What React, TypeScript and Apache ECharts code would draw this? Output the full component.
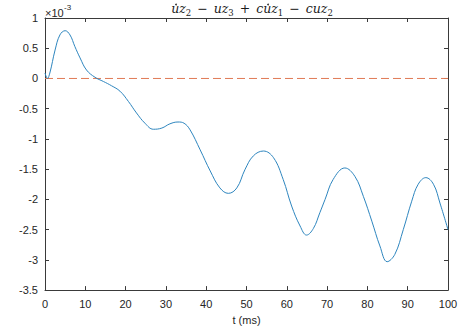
import React, { useEffect, useRef } from "react";
import * as echarts from "echarts";

// time (ms)
const tValues = [
  0, 0.6, 1.2, 2.5, 3.7, 5, 6.2, 7.4, 8.7, 10.3, 12.4, 14.5, 16.5, 18.6, 20.7, 22.7, 24.8, 26.9,
  29, 31, 33, 34.5, 36, 38.5, 41, 43.4, 45.5, 47.6, 49.6, 51.7, 54.2, 56.7, 59.1, 61.2, 63.3,
  64.9, 66.6, 68.2, 69.5, 71.5, 74.4, 76.9, 79, 81.1, 83.1, 84.9, 86.8, 88.9, 91, 92.6, 94.5,
  96.4, 98, 100,
];
// signal values in units of 1e-3
const signalE3 = [
  0.09, 0.0, 0.09, 0.47, 0.72, 0.79, 0.72, 0.53, 0.34, 0.14, 0.02, -0.05, -0.12, -0.21, -0.38,
  -0.57, -0.74, -0.84, -0.82, -0.75, -0.72, -0.74, -0.85, -1.18, -1.53, -1.81, -1.9, -1.81,
  -1.51, -1.28, -1.2, -1.31, -1.67, -2.11, -2.44, -2.59, -2.48, -2.22, -2.0, -1.67, -1.48,
  -1.62, -1.95, -2.36, -2.77, -3.03, -2.91, -2.5, -2.03, -1.75, -1.64, -1.75, -2.06, -2.5,
];
const zeroLineT = [0, 100];
const zeroLineV = [0, 0];

const xTicks = { min: 0, max: 100, interval: 10 };
const yTicks = { min: -3.5, max: 1, interval: 0.5 };
// title tokens: [text, kind, dotted]  (i = italic variable, s = subscript, o = operator)
const titleTokens: [string, string, boolean][] = [
  ["u", "i", true], ["z", "i", false], ["2", "s", false], ["−", "o", false],
  ["u", "i", false], ["z", "i", false], ["3", "s", false], ["+", "o", false],
  ["c", "i", false], ["u", "i", true], ["z", "i", false], ["1", "s", false], ["−", "o", false],
  ["c", "i", false], ["u", "i", false], ["z", "i", false], ["2", "s", false],
];
const xLabel = "t (ms)";
const exponentBase = "×10";
const exponentPower = "-3";

export default function App() {
  const ref = useRef<HTMLDivElement>(null);
  useEffect(() => {
    if (!ref.current) return;
    const chart = echarts.init(ref.current, undefined, { renderer: "svg" });
    const axisColor = "#3a3a3a";
    const font = "Liberation Sans, Arial, sans-serif";
    const serif = "'DejaVu Serif', 'Liberation Serif', serif";
    const baseAxis = {
      axisLine: { show: true, onZero: false, lineStyle: { color: axisColor, width: 1 } },
      axisTick: { show: true, inside: true, length: 4, lineStyle: { color: axisColor } },
      splitLine: { show: false },
    };

    // lay out the title tokens
    const mainSize = 12.5;
    const subSize = 8.5;
    const ctx = document.createElement("canvas").getContext("2d")!;
    const fontOf = (kind: string) =>
      kind === "i"
        ? `italic ${mainSize}px ${serif}`
        : kind === "s"
        ? `${subSize}px ${serif}`
        : `${mainSize}px ${serif}`;
    const opGap = 6;
    const widths = titleTokens.map(([t, k]) => {
      ctx.font = fontOf(k);
      return ctx.measureText(t).width + (k === "o" ? 2 * opGap : 0);
    });
    const total = widths.reduce((a, b) => a + b, 0);
    const centerX = 252;
    const baseY = 15;
    let cx = centerX - total / 2;
    const titleEls: any[] = [];
    titleTokens.forEach(([t, k, dotted], i) => {
      const x = cx + (k === "o" ? opGap : 0);
      titleEls.push({
        type: "text",
        x,
        y: k === "s" ? baseY + 2.5 : baseY,
        style: {
          text: t,
          fontSize: k === "s" ? subSize : mainSize,
          fontFamily: serif,
          fontStyle: k === "i" ? "italic" : "normal",
          fill: "#1a1a1a",
          align: "left",
          verticalAlign: "bottom",
        },
      });
      if (dotted) {
        const w = widths[i];
        titleEls.push({
          type: "circle",
          shape: { cx: x + w * 0.6, cy: baseY - 10.5, r: 0.8 },
          style: { fill: "#1a1a1a" },
        });
      }
      cx += widths[i];
    });

    chart.setOption({
      animation: false,
      backgroundColor: "#ffffff",
      grid: { left: 45, right: 13, top: 18, bottom: 39, containLabel: false },
      xAxis: [
        {
          type: "value",
          ...xTicks,
          ...baseAxis,
          position: "bottom",
          axisLabel: { color: "#262626", fontSize: 11, fontFamily: font, margin: 8 },
          name: xLabel,
          nameLocation: "middle",
          nameGap: 21,
          nameTextStyle: { color: "#262626", fontSize: 11, fontFamily: font },
        },
        {
          type: "value",
          ...xTicks,
          ...baseAxis,
          position: "top",
          axisLabel: { show: false },
        },
      ],
      yAxis: [
        {
          type: "value",
          ...yTicks,
          ...baseAxis,
          position: "left",
          axisLabel: { color: "#262626", fontSize: 11, fontFamily: font, margin: 7 },
        },
        {
          type: "value",
          ...yTicks,
          ...baseAxis,
          position: "right",
          axisLabel: { show: false },
        },
      ],
      graphic: [
        {
          type: "text",
          x: 45,
          y: 12.5,
          style: {
            text: exponentBase,
            fontSize: 11,
            fontFamily: font,
            fill: "#262626",
            align: "left",
            verticalAlign: "middle",
          },
        },
        {
          type: "text",
          x: 64,
          y: 7,
          style: {
            text: exponentPower,
            fontSize: 8,
            fontFamily: font,
            fill: "#262626",
            align: "left",
            verticalAlign: "middle",
          },
        },
        ...titleEls,
      ],
      series: [
        {
          type: "line",
          data: zeroLineT.map((t, i) => [t, zeroLineV[i]]),
          showSymbol: false,
          lineStyle: { color: "#E07A55", width: 1, type: [8, 4] },
          silent: true,
        },
        {
          type: "line",
          data: tValues.map((t, i) => [t, signalE3[i]]),
          showSymbol: false,
          smooth: 0.4,
          lineStyle: { color: "#2E86BF", width: 1 },
        },
      ],
    });
    return () => chart.dispose();
  }, []);
  return (
    <div
      ref={ref}
      style={{ position: "absolute", left: 0, top: 0, width: 461, height: 330 }}
    />
  );
}
